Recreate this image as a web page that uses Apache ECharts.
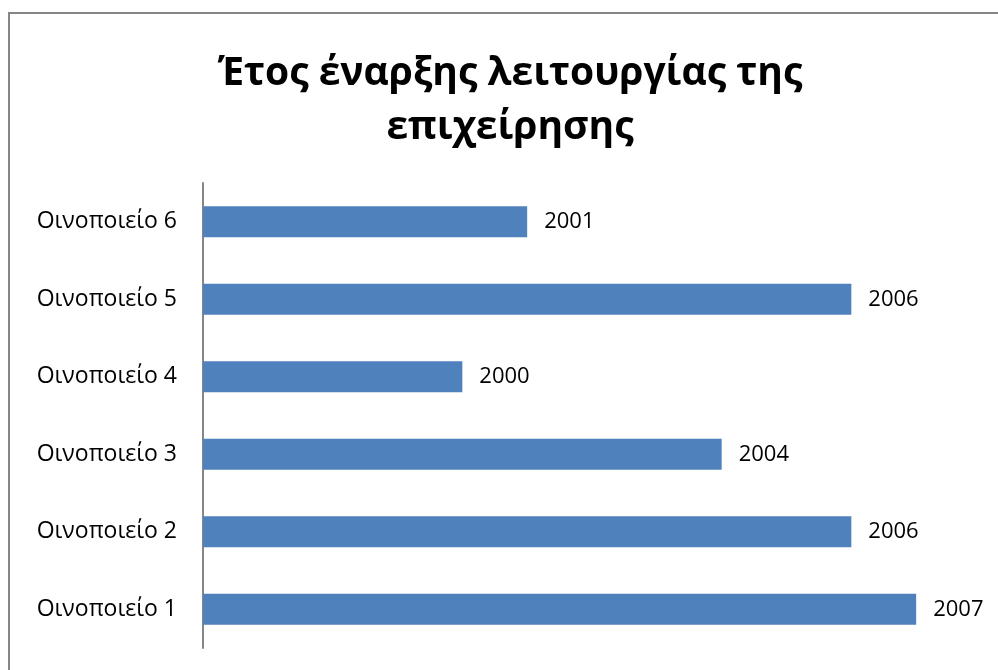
<!DOCTYPE html>
<html>
<head>
<meta charset="utf-8">
<script src="https://cdn.jsdelivr.net/npm/echarts@6/dist/echarts.min.js"></script>
<style>
  html, body { margin: 0; padding: 0; background: #fff; }
  #chart { width: 998px; height: 670px; }
</style>
</head>
<body>
<div id="chart"></div>
<script>
// Wineries and the year each one started operating
const wineries = ['Οινοποιείο 1', 'Οινοποιείο 2', 'Οινοποιείο 3', 'Οινοποιείο 4', 'Οινοποιείο 5', 'Οινοποιείο 6'];
const startYears = [2007, 2006, 2004, 2000, 2006, 2001];
const yearMin = 1996;
const yearMax = 2008;
const chartTitle = 'Έτος έναρξης λειτουργίας της\nεπιχείρησης';

const chart = echarts.init(document.getElementById('chart'), null, { renderer: 'canvas' });

chart.setOption({
  backgroundColor: '#ffffff',
  animation: false,
  graphic: [{
    // chart frame (left and top edges fall inside the canvas)
    type: 'rect',
    shape: { x: 9, y: 13, width: 1000, height: 700 },
    style: { fill: 'none', stroke: '#868686', lineWidth: 2 },
    silent: true
  }, {
    // two-line title, centred over the framed area
    type: 'text',
    x: 510,
    y: 47,
    silent: true,
    style: {
      text: chartTitle,
      align: 'center',
      verticalAlign: 'top',
      fontFamily: 'Open Sans',
      fontWeight: 'bold',
      fontSize: 39,
      lineHeight: 54,
      fill: '#000000'
    }
  }],
  grid: {
    left: 203,
    right: 17,
    top: 183,
    bottom: 22,
    containLabel: false
  },
  xAxis: {
    type: 'value',
    min: yearMin,
    max: yearMax,
    show: false
  },
  yAxis: {
    type: 'category',
    data: wineries,
    axisLine: { show: true, lineStyle: { color: '#868686', width: 2 } },
    axisTick: { show: false },
    axisLabel: {
      margin: 26,
      fontFamily: 'Open Sans',
      fontSize: 23,
      color: '#000000'
    },
    splitLine: { show: false }
  },
  series: [{
    type: 'bar',
    data: startYears,
    barWidth: '40%',
    itemStyle: { color: '#4F81BD' },
    label: {
      show: true,
      position: 'right',
      distance: 17,
      fontFamily: 'Open Sans',
      fontSize: 22,
      color: '#000000'
    }
  }]
});
</script>
</body>
</html>
